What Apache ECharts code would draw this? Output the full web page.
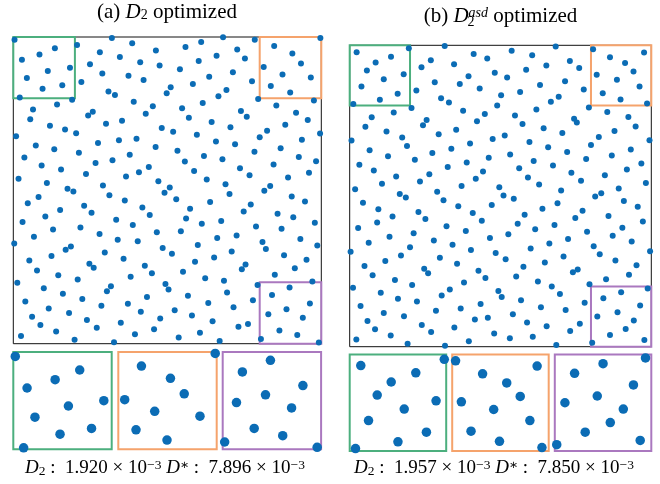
<!DOCTYPE html>
<html>
<head>
<meta charset="utf-8">
<script src="https://cdn.jsdelivr.net/npm/echarts@6/dist/echarts.min.js"></script>
<style>
  html, body { margin: 0; padding: 0; background: #fff; }
  #main { width: 660px; height: 484px; }
</style>
</head>
<body>
<div id="main"></div>
<script>
var myChart = echarts.init(document.getElementById('main'));

// (a) D2 optimized -- 256 points, x right, y measured from the top
var ptsA = [
  [0.004,0.009],[0.320,0.003],[0.386,0.020],[0.207,0.026],[0.135,0.037],[0.463,0.044],[0.085,0.057],[0.281,0.050],[0.346,0.065],[0.028,0.074],
  [0.412,0.082],[0.475,0.093],[0.249,0.089],[0.184,0.100],[0.112,0.111],[0.289,0.119],[0.374,0.126],[0.044,0.134],[0.423,0.140],[0.221,0.147],
  [0.159,0.157],[0.095,0.169],[0.309,0.178],[0.330,0.189],[0.498,0.183],[0.021,0.197],[0.191,0.205],[0.142,0.220],[0.391,0.211],[0.453,0.226],
  [0.064,0.236],[0.258,0.244],[0.243,0.256],[0.430,0.250],[0.055,0.268],[0.353,0.273],[0.301,0.283],[0.119,0.289],[0.482,0.297],[0.168,0.302],
  [0.204,0.314],[0.009,0.324],[0.400,0.332],[0.343,0.337],[0.275,0.346],[0.073,0.354],[0.462,0.359],[0.133,0.366],[0.213,0.377],[0.378,0.384],
  [0.036,0.393],[0.322,0.402],[0.267,0.411],[0.092,0.419],[0.440,0.424],[0.155,0.432],[0.408,0.441],[0.236,0.447],[0.366,0.455],[0.017,0.462],
  [0.471,0.470],[0.109,0.476],[0.291,0.484],[0.176,0.495],
  [0.681,0.001],[0.784,0.009],[0.610,0.016],[0.559,0.033],[0.847,0.029],[0.727,0.041],[0.997,0.003],[0.906,0.054],[0.660,0.061],[0.752,0.070],
  [0.602,0.078],[0.934,0.086],[0.813,0.098],[0.541,0.105],[0.713,0.115],[0.874,0.122],[0.636,0.130],[0.966,0.132],[0.775,0.144],[0.583,0.153],
  [0.511,0.164],[0.836,0.160],[0.692,0.173],[0.899,0.181],[0.666,0.193],[0.795,0.202],[0.976,0.207],[0.615,0.215],[0.854,0.223],[0.548,0.232],
  [0.739,0.241],[0.918,0.247],[0.758,0.260],[0.570,0.263],[0.956,0.271],[0.644,0.277],[0.883,0.286],[0.705,0.294],[0.824,0.306],[0.519,0.309],
  [0.996,0.315],[0.596,0.319],[0.800,0.327],[0.937,0.335],[0.658,0.341],[0.720,0.350],[0.868,0.363],[0.533,0.371],[0.783,0.374],[0.619,0.388],
  [0.927,0.391],[0.679,0.399],[0.557,0.406],[0.983,0.405],[0.845,0.416],[0.736,0.428],[0.587,0.437],[0.960,0.443],[0.767,0.451],[0.892,0.458],
  [0.628,0.465],[0.689,0.480],[0.508,0.491],[0.834,0.486],
  [0.195,0.504],[0.491,0.508],[0.312,0.516],[0.082,0.522],[0.362,0.533],[0.047,0.542],[0.230,0.550],[0.419,0.556],[0.152,0.564],[0.254,0.573],
  [0.443,0.580],[0.104,0.585],[0.334,0.596],[0.030,0.603],[0.388,0.613],[0.218,0.621],[0.129,0.628],[0.466,0.637],[0.280,0.642],[0.067,0.651],
  [0.339,0.661],[0.404,0.666],[0.003,0.673],[0.187,0.683],[0.170,0.694],[0.485,0.688],[0.297,0.703],[0.124,0.714],[0.358,0.723],[0.052,0.729],
  [0.247,0.739],[0.261,0.752],[0.427,0.746],[0.077,0.761],[0.450,0.770],[0.146,0.777],[0.381,0.782],[0.209,0.791],[0.013,0.801],[0.494,0.805],
  [0.317,0.813],[0.099,0.819],[0.304,0.829],[0.161,0.837],[0.434,0.848],[0.224,0.854],[0.039,0.862],[0.372,0.870],[0.286,0.876],[0.115,0.885],
  [0.414,0.896],[0.181,0.900],[0.061,0.912],[0.477,0.918],[0.239,0.923],[0.349,0.932],[0.088,0.939],[0.271,0.948],[0.457,0.953],[0.139,0.960],
  [0.395,0.969],[0.025,0.975],[0.199,0.987],[0.327,0.995],
  [0.815,0.501],[0.702,0.512],[0.904,0.520],[0.529,0.529],[0.639,0.538],[0.947,0.536],[0.771,0.546],[0.574,0.560],[0.748,0.569],[0.858,0.576],
  [0.561,0.592],[0.909,0.588],[0.675,0.600],[0.612,0.609],[0.979,0.606],[0.788,0.618],[0.871,0.625],[0.544,0.633],[0.725,0.647],[0.662,0.655],
  [0.932,0.659],[0.809,0.668],[0.820,0.691],[0.599,0.678],[0.987,0.680],[0.515,0.707],[0.709,0.699],[0.879,0.712],[0.652,0.719],[0.952,0.726],
  [0.590,0.733],[0.754,0.742],[0.742,0.757],[0.914,0.754],[0.551,0.765],[0.849,0.775],[0.623,0.787],[0.684,0.795],[0.971,0.797],[0.793,0.809],
  [0.504,0.823],[0.897,0.817],[0.694,0.833],[0.840,0.841],[0.567,0.844],[0.633,0.867],[0.778,0.858],[0.963,0.869],[0.887,0.888],[0.715,0.881],
  [0.524,0.891],[0.828,0.904],[0.580,0.908],[0.940,0.915],[0.647,0.927],[0.762,0.936],[0.731,0.945],[0.864,0.957],[0.606,0.964],[0.922,0.972],
  [0.537,0.980],[0.670,0.991],[0.804,0.985],[0.992,0.996]
];

// (b) D2^asd optimized
var ptsB = [
  [0.023,0.023],[0.196,0.010],[0.315,0.002],[0.137,0.038],[0.411,0.029],[0.456,0.044],[0.086,0.057],[0.269,0.050],[0.346,0.063],[0.238,0.073],
  [0.057,0.084],[0.179,0.096],[0.481,0.091],[0.394,0.103],[0.113,0.113],[0.282,0.123],[0.365,0.128],[0.039,0.137],[0.431,0.143],[0.221,0.150],
  [0.159,0.161],[0.502,0.166],[0.303,0.176],[0.100,0.181],[0.329,0.190],[0.012,0.195],[0.489,0.200],[0.205,0.208],[0.376,0.217],[0.146,0.223],
  [0.448,0.228],[0.073,0.239],[0.255,0.248],[0.243,0.265],[0.422,0.252],[0.052,0.270],[0.353,0.280],[0.122,0.286],[0.295,0.295],[0.174,0.306],
  [0.474,0.311],[0.006,0.316],[0.190,0.334],[0.399,0.326],[0.337,0.343],[0.066,0.348],[0.274,0.357],[0.127,0.368],[0.461,0.373],[0.216,0.380],
  [0.388,0.389],[0.032,0.396],[0.325,0.404],[0.080,0.415],[0.442,0.419],[0.264,0.428],[0.154,0.435],[0.418,0.443],[0.233,0.452],[0.107,0.459],
  [0.371,0.467],[0.496,0.471],[0.018,0.478],[0.290,0.486],[0.166,0.493],
  [0.537,0.018],[0.683,0.004],[0.605,0.033],[0.807,0.013],[0.976,0.024],[0.863,0.040],[0.730,0.052],[0.652,0.067],[0.913,0.059],[0.761,0.075],
  [0.585,0.081],[0.941,0.087],[0.819,0.098],[0.522,0.107],[0.714,0.119],[0.886,0.114],[0.631,0.132],[0.961,0.137],[0.776,0.147],[0.565,0.155],
  [0.839,0.159],[0.693,0.171],[0.667,0.187],[0.898,0.180],[0.986,0.193],[0.793,0.206],[0.619,0.213],[0.854,0.221],[0.548,0.233],[0.924,0.238],
  [0.744,0.244],[0.753,0.256],[0.573,0.261],[0.948,0.269],[0.643,0.275],[0.878,0.284],[0.705,0.291],[0.514,0.299],[0.826,0.304],[0.994,0.315],
  [0.596,0.321],[0.800,0.331],[0.658,0.338],[0.932,0.346],[0.721,0.354],[0.532,0.362],[0.869,0.366],[0.784,0.377],[0.610,0.384],[0.967,0.392],
  [0.674,0.399],[0.562,0.408],[0.919,0.412],[0.735,0.423],[0.846,0.431],[0.591,0.439],[0.982,0.457],[0.767,0.449],[0.628,0.462],[0.892,0.475],
  [0.701,0.482],[0.510,0.498],[0.834,0.491],
  [0.186,0.505],[0.311,0.514],[0.044,0.522],[0.360,0.534],[0.471,0.530],[0.095,0.544],[0.228,0.553],[0.408,0.556],[0.142,0.568],[0.251,0.576],
  [0.438,0.582],[0.091,0.588],[0.321,0.600],[0.028,0.606],[0.385,0.616],[0.212,0.624],[0.132,0.635],[0.465,0.639],[0.279,0.648],[0.063,0.655],
  [0.341,0.662],[0.200,0.670],[0.402,0.679],[0.003,0.685],[0.484,0.689],[0.170,0.697],[0.299,0.705],[0.118,0.716],[0.356,0.725],[0.049,0.732],
  [0.247,0.741],[0.260,0.756],[0.427,0.748],[0.076,0.763],[0.450,0.772],[0.150,0.779],[0.379,0.787],[0.207,0.795],[0.011,0.804],[0.493,0.815],
  [0.332,0.810],[0.504,0.835],[0.305,0.830],[0.103,0.821],[0.160,0.841],[0.223,0.850],[0.434,0.858],[0.036,0.865],[0.368,0.873],[0.286,0.881],
  [0.113,0.888],[0.180,0.899],[0.458,0.904],[0.415,0.910],[0.059,0.915],[0.239,0.928],[0.347,0.936],[0.084,0.942],[0.270,0.951],[0.479,0.956],
  [0.136,0.963],[0.022,0.976],[0.395,0.982],[0.192,0.990],[0.316,0.997],
  [0.544,0.509],[0.814,0.502],[0.909,0.517],[0.689,0.524],[0.639,0.542],[0.955,0.536],[0.772,0.549],[0.580,0.562],[0.858,0.566],[0.748,0.573],
  [0.972,0.585],[0.557,0.592],[0.679,0.596],[0.904,0.605],[0.615,0.610],[0.787,0.619],[0.526,0.627],[0.872,0.632],[0.724,0.643],[0.935,0.651],
  [0.662,0.658],[0.809,0.667],[0.600,0.674],[0.996,0.683],[0.829,0.693],[0.709,0.701],[0.517,0.710],[0.881,0.714],[0.647,0.721],[0.951,0.730],
  [0.576,0.735],[0.756,0.744],[0.740,0.753],[0.926,0.761],[0.552,0.767],[0.850,0.776],[0.624,0.784],[0.795,0.793],[0.670,0.800],[0.988,0.807],
  [0.697,0.825],[0.900,0.819],[0.841,0.839],[0.568,0.846],[0.779,0.854],[0.963,0.863],[0.634,0.869],[0.716,0.878],[0.888,0.886],[0.541,0.892],
  [0.821,0.900],[0.942,0.913],[0.588,0.920],[0.763,0.924],[0.653,0.932],[0.915,0.941],[0.731,0.948],[0.863,0.961],[0.607,0.967],[0.531,0.972],
  [0.977,0.978],[0.804,0.987],[0.685,0.994]
];

// zoom windows: [xmin, xmax, ymin, ymax] (y from top)
var zoomWin = [[0, 0.2, 0, 0.2], [0.8, 1, 0, 0.2], [0.8, 1, 0.8, 1]];
var zoomCol = ['#4caf7e', '#f5a36c', '#aa78bf'];

// discrepancy values shown under each panel
var d2Val = ['1.920', '1.957'];
var dStarVal = ['7.896', '7.850'];

var DOT = '#0b6cb5';
var SERIF = '"Liberation Serif", "DejaVu Serif", serif';

var grids = [], xAxes = [], yAxes = [], series = [];

function addPanel(rect, pts, win, border, bw, size, marks) {
  var idx = grids.length;
  grids.push({
    left: rect[0], top: rect[1], width: rect[2], height: rect[3],
    show: true, borderColor: border, borderWidth: bw, backgroundColor: 'transparent'
  });
  xAxes.push({ type: 'value', gridIndex: idx, min: win[0], max: win[1], show: false });
  yAxes.push({ type: 'value', gridIndex: idx, min: win[2], max: win[3], inverse: true, show: false });
  var s = {
    type: 'scatter', xAxisIndex: idx, yAxisIndex: idx,
    data: pts, symbolSize: size, clip: true, silent: true,
    itemStyle: { color: DOT, opacity: 1 }
  };
  if (marks) {
    s.markArea = {
      silent: true,
      itemStyle: { color: 'rgba(0,0,0,0)', borderWidth: 2 },
      data: zoomWin.map(function (w, i) {
        return [
          { xAxis: w[0], yAxis: w[2], itemStyle: { borderColor: zoomCol[i], borderWidth: 2, color: 'rgba(0,0,0,0)' } },
          { xAxis: w[1], yAxis: w[3] }
        ];
      })
    };
  }
  series.push(s);
}

// main panels
addPanel([13.3, 37, 308, 306.7], ptsA, [0, 1, 0, 1], '#111', 1, 6, true);
addPanel([349.7, 45.3, 301.6, 301.4], ptsB, [0, 1, 0, 1], '#111', 1, 6, true);

// magnified insets
var insetA = [[13.3, 352, 98.4, 97.3], [118.3, 352, 98.4, 97.3], [222.7, 352, 98.4, 97.3]];
var insetB = [[349.7, 354.5, 96.5, 96.5], [452.2, 354.5, 96.5, 96.5], [554.8, 354.5, 96.5, 96.5]];
zoomWin.forEach(function (w, i) {
  addPanel(insetA[i], ptsA, w, zoomCol[i], 2, 9.5, false);
  addPanel(insetB[i], ptsB, w, zoomCol[i], 2, 9.5, false);
});

function tok(size, extra) {
  var o = { fontFamily: SERIF, fontSize: size, fontWeight: 'normal', color: '#000' };
  for (var k in extra) o[k] = extra[k];
  return o;
}
var richTitle = {
  t: tok(21, { lineHeight: 20 }),
  i: tok(21, { lineHeight: 20, fontStyle: 'italic' }),
  sub: tok(14, { lineHeight: 10, verticalAlign: 'bottom' }),
  sup: tok(14, { lineHeight: 10, verticalAlign: 'top', fontStyle: 'italic' })
};
var richVal = {
  t: tok(19, { lineHeight: 20 }),
  i: tok(19, { lineHeight: 20, fontStyle: 'italic' }),
  sub: tok(13.5, { lineHeight: 10, verticalAlign: 'bottom' }),
  sup: tok(13.5, { lineHeight: 10, verticalAlign: 'top' })
};

function valText(k) {
  return '{i|D}{sub|2}{t| :  ' + d2Val[k] + ' × 10}{sup|−3}{t| }{i|D}{sup|∗}{t| :  ' +
    dStarVal[k] + ' × 10}{sup|−3}';
}

var plainStyle = { fontFamily: SERIF, fontWeight: 'normal', color: '#000' };

var option = {
  animation: false,
  backgroundColor: '#fff',
  title: [
    { text: '{t|(a) }{i|D}{sub|2}{t| optimized}', left: 167, top: 2, padding: 0, textAlign: 'center',
      textStyle: Object.assign({ rich: richTitle }, plainStyle) },
    { text: '{t|(b) }{i|D}{sup|asd}{t| optimized}', left: 500.5, top: 6, padding: 0, textAlign: 'center',
      textStyle: Object.assign({ rich: richTitle }, plainStyle) },
    { text: '{sub|2}', left: 467.5, top: 17, padding: 0,
      textStyle: Object.assign({ rich: { sub: tok(14, { lineHeight: 10 }) } }, plainStyle) },
    { text: valText(0), left: 165, top: 458, padding: 0, textAlign: 'center',
      textStyle: Object.assign({ rich: richVal }, plainStyle) },
    { text: valText(1), left: 494, top: 458, padding: 0, textAlign: 'center',
      textStyle: Object.assign({ rich: richVal }, plainStyle) }
  ],
  grid: grids,
  xAxis: xAxes,
  yAxis: yAxes,
  series: series
};

myChart.setOption(option);
</script>
</body>
</html>
